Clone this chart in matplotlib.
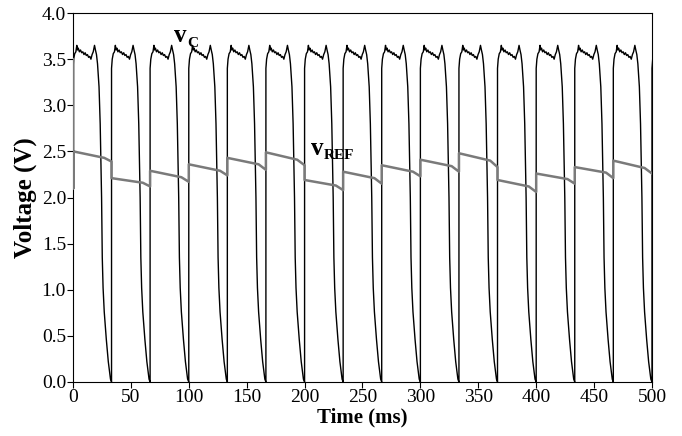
import matplotlib
matplotlib.use("Agg")
import matplotlib.pyplot as plt

# ---------------- data ----------------
# rise instants of v_C (ms); each cycle starts with a fast rise
rise_times = [0.0, 33.3, 66.6, 100.0, 133.3, 166.6, 200.0, 233.3, 266.6,
              300.0, 333.3, 366.6, 400.0, 433.3, 466.6, 500.0]
# shape of one v_C cycle: time after rise (ms) and voltage (V)
cycle_dt = [0.0, 0.0, 0.6, 1.5, 2.5, 3.3, 3.9, 4.6, 5.5, 6.5, 7.5, 8.5, 9.5,
            10.5, 11.5, 12.5, 13.5, 14.5, 15.5, 16.5, 17.5, 18.6, 19.4, 20.3,
            21.2, 22.5, 23.5, 24.1, 24.7, 25.3, 26.0, 27.0, 28.8, 30.5, 32.4]
cycle_v = [0.00, 3.40, 3.50, 3.56, 3.58, 3.65, 3.60, 3.62, 3.58, 3.60, 3.57,
           3.58, 3.55, 3.57, 3.54, 3.55, 3.52, 3.53, 3.50, 3.55, 3.58, 3.65,
           3.60, 3.55, 3.45, 3.20, 2.80, 2.40, 2.00, 1.35, 1.02, 0.76, 0.46,
           0.22, 0.03]

# v_REF: one nearly flat segment per cycle (start, knee near the end, end)
vref_start = [2.50, 2.21, 2.29, 2.36, 2.43, 2.49, 2.19, 2.28, 2.35, 2.41,
              2.48, 2.19, 2.26, 2.33, 2.40]
vref_knee = [2.43, 2.16, 2.22, 2.29, 2.36, 2.41, 2.13, 2.21, 2.28, 2.34,
             2.40, 2.12, 2.20, 2.27, 2.32]
vref_end = [2.39, 2.12, 2.17, 2.24, 2.30, 2.35, 2.08, 2.15, 2.23, 2.28,
            2.33, 2.06, 2.15, 2.21, 2.26]
vref_knee_dt = 27.0
# initial transient of v_REF at t = 0
vref_init_t = [0.3, 0.3]
vref_init_v = [3.50, 2.10]

x_ticks = [0, 50, 100, 150, 200, 250, 300, 350, 400, 450, 500]
y_ticks = [0.0, 0.5, 1.0, 1.5, 2.0, 2.5, 3.0, 3.5, 4.0]

# ---------------- build traces ----------------
vc_t, vc_v = [], []
for i, r in enumerate(rise_times):
    for j, (dt, v) in enumerate(zip(cycle_dt, cycle_v)):
        if i == 0 and j == 0:
            continue
        vc_t.append(r + dt)
        vc_v.append(v)

vr_t = list(vref_init_t)
vr_v = list(vref_init_v)
for k in range(len(vref_start)):
    t0 = rise_times[k]
    t1 = rise_times[k + 1]
    vr_t += [t0 if k else 0.3, t0 + vref_knee_dt, t1]
    vr_v += [vref_start[k], vref_knee[k], vref_end[k]]

# ---------------- figure ----------------
plt.rcParams['font.family'] = ['Liberation Serif', 'DejaVu Serif']
fig = plt.figure(figsize=(6.82, 4.36), dpi=100)
ax = fig.add_axes([0.107, 0.124, 0.849, 0.846])

ax.plot(vc_t, vc_v, color='black', lw=1.0, zorder=3)
ax.plot(vr_t, vr_v, color='#7a7a7a', lw=1.8, zorder=4)

ax.set_xlim(0, 500)
ax.set_ylim(0, 4.0)
ax.set_xticks(x_ticks)
ax.set_yticks(y_ticks)
ax.set_yticklabels([f"{v:.1f}" for v in y_ticks])
ax.tick_params(direction='out', length=4, width=0.8, labelsize=14, pad=1)
for s in ax.spines.values():
    s.set_linewidth(0.8)

ax.set_xlabel('Time (ms)', fontsize=15, fontweight='bold', labelpad=1)
ax.set_ylabel('Voltage (V)', fontsize=18, fontweight='bold', labelpad=3)

# trace labels
ax.text(87.5, 3.69, 'v', fontsize=18, fontweight='bold', ha='left', va='baseline')
ax.annotate('C', xy=(87.5, 3.69), xytext=(9.5, -4), textcoords='offset points',
            fontsize=11, fontweight='bold', ha='left', va='baseline')
ax.text(205.5, 2.46, 'v', fontsize=18, fontweight='bold', ha='left', va='baseline')
ax.annotate('REF', xy=(205.5, 2.46), xytext=(9.5, -3), textcoords='offset points',
            fontsize=11, fontweight='bold', ha='left', va='baseline')

fig.savefig('out.png', dpi=100)
